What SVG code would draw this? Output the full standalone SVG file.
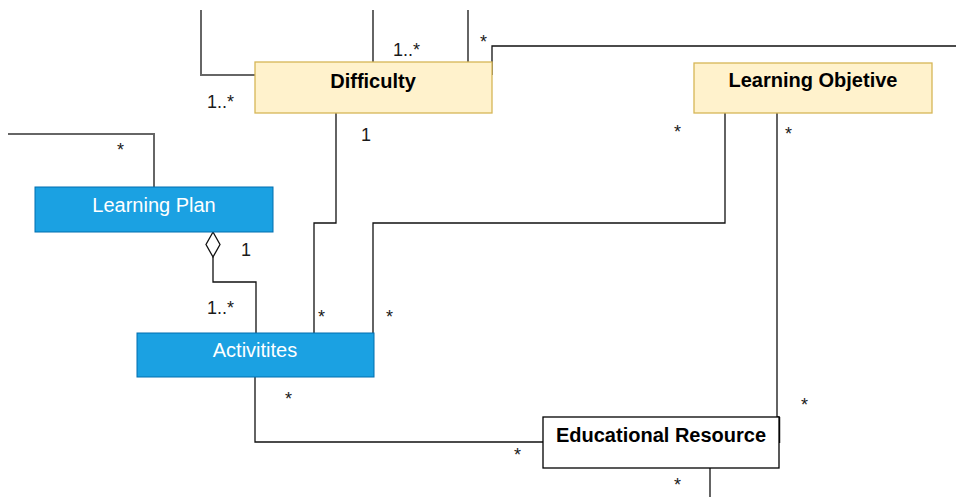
<svg xmlns="http://www.w3.org/2000/svg" width="956" height="497" viewBox="0 0 956 497">
<style>
.yel{fill:#fff2cc;stroke:#d6b656;stroke-width:1.3}
.blu{fill:#1ba1e2;stroke:#006eaf;stroke-width:1}
.wht{fill:#ffffff;stroke:#000000;stroke-width:1.3}
.tb{font-family:"Liberation Sans",Arial,sans-serif;font-size:20px;font-weight:bold;fill:#000;text-anchor:middle}
.tw{font-family:"Liberation Sans",Arial,sans-serif;font-size:20px;fill:#fff;text-anchor:middle}
.lbl{font-family:"Liberation Sans",Arial,sans-serif;font-size:18px;fill:#1a1a1a}
.ln{fill:none;stroke:#111;stroke-width:1.3}
.lg{fill:none;stroke:#666;stroke-width:2}
</style>
<rect width="956" height="497" fill="#fff"/>
<g id="connectors">
<path class="lg" d="M201 10 V75 H255"/>
<path class="ln" d="M373 10 V62"/>
<path class="ln" d="M468 10 V62"/>
<path class="ln" d="M492 75 V46 H956"/>
<path class="lg" d="M154 187 V134 H8"/>
<path class="ln" d="M336 113 V223 H314 V333"/>
<path class="ln" d="M725 113 V223 H373 V333"/>
<path class="ln" d="M777 113 V417 H779 V443"/>
<path class="ln" d="M779 417 V443" style="stroke-width:2.5"/>
<path class="ln" d="M213 257 V282 H256 V333"/>
<path class="ln" d="M213 232 L220 244.5 L213 257 L206 244.5 Z" fill="#fff"/>
<path class="ln" d="M255 377 V442 H543"/>
<path class="ln" d="M710 468 V497"/>
</g>
<g id="labels">
<text class="lbl" x="207" y="108">1..*</text>
<text class="lbl" x="393" y="56">1..*</text>
<text class="lbl" x="480" y="48">*</text>
<text class="lbl" x="117" y="156">*</text>
<text class="lbl" x="361" y="141">1</text>
<text class="lbl" x="674" y="138">*</text>
<text class="lbl" x="785" y="140">*</text>
<text class="lbl" x="241" y="256">1</text>
<text class="lbl" x="207" y="314">1..*</text>
<text class="lbl" x="318" y="323">*</text>
<text class="lbl" x="386" y="323">*</text>
<text class="lbl" x="285" y="405">*</text>
<text class="lbl" x="514" y="461">*</text>
<text class="lbl" x="801" y="411">*</text>
<text class="lbl" x="674" y="491">*</text>
</g>
<g id="difficulty">
<rect class="yel" x="255" y="62" width="237" height="51"/>
<text class="tb" x="373" y="88">Difficulty</text>
</g>
<g id="learning-objetive">
<rect class="yel" x="694" y="63" width="238" height="50"/>
<text class="tb" x="813" y="87">Learning Objetive</text>
</g>
<g id="learning-plan">
<rect class="blu" x="35" y="187" width="238" height="45"/>
<text class="tw" x="154" y="212">Learning Plan</text>
</g>
<g id="activitites">
<rect class="blu" x="137" y="333" width="237" height="44"/>
<text class="tw" x="255" y="357">Activitites</text>
</g>
<g id="educational-resource">
<rect class="wht" x="543" y="417" width="236" height="51"/>
<text class="tb" x="661" y="442">Educational Resource</text>
</g>
</svg>
